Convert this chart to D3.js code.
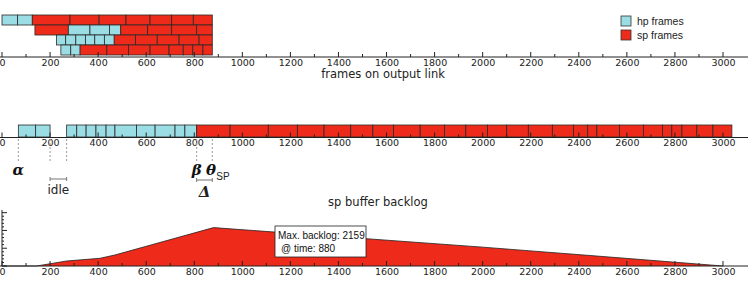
<!DOCTYPE html>
<html>
<head>
<meta charset="utf-8">
<script src="https://cdn.jsdelivr.net/npm/d3@7"></script>
<style>
  body { margin: 0; background: #fff; }
  svg { display: block; font-family: "DejaVu Sans", sans-serif; }
  .tick text { fill: #222; }
</style>
</head>
<body>
<svg class="chart" width="748" height="282"></svg>
<script>
// tick labels shared by all three panels
var xTicks = d3.range(0, 3001, 200);
var minorTicks = d3.range(0, 3001, 100);

// top panel: frame edges per queue row (hp = high priority, sp = low priority)
var row1 = [['hp', [0, 65, 126]], ['sp', [126, 283, 404, 516, 616, 706, 796, 875]]];
var row2 = [['sp', [137, 276]], ['hp', [276, 366, 447, 494]], ['sp', [494, 606, 706, 810, 875]]];
var row3 = [['hp', [227, 265, 307, 347, 386, 426, 467]], ['sp', [467, 556, 646, 737, 820, 875]]];
var row4 = [['hp', [245, 286, 325]], ['sp', [325, 436, 526, 616, 695, 754, 794, 836, 875]]];

// middle panel: frames as they leave on the output link
var linkFrames = [
    ['hp', [68, 140, 200]],
    ['hp', [269, 311, 350, 391, 433, 470, 560, 637, 720, 761, 810]],
    ['sp', [810, 949, 1108, 1229, 1340, 1451, 1543, 1629, 1740, 1841, 1930, 2020, 2100,
            2190, 2290, 2378, 2437, 2475, 2569, 2669, 2748, 2787, 2829, 2891, 2958, 3037]]
];

// bottom panel: sp buffer backlog
var backlogTime = [0, 144, 269, 408, 470, 880, 2000, 2447, 3000];
var backlogBytes = [0, 0, 282, 434, 620, 2159, 1060, 590, 0];
var maxBacklog = { time: 880, value: 2159 };

var colors = { hp: '#9adde4', sp: '#ee2a1a' };

var svg = d3.select('svg.chart');
var x = d3.scaleLinear().domain([0, 3000]).range([2, 723]);

function toSegments(groups) {
    var out = [];
    groups.forEach(function(g) {
        for (var i = 0; i < g[1].length - 1; i++) {
            out.push({ type: g[0], from: g[1][i], to: g[1][i + 1] });
        }
    });
    return out;
}

function drawAxis(yPos) {
    var g = svg.append('g').attr('transform', 'translate(0,' + yPos + ')');
    g.append('line')
        .attr('x1', 0).attr('x2', 748)
        .attr('stroke', '#222').attr('stroke-width', 1);
    g.selectAll('.minor')
        .data(minorTicks)
        .enter()
            .append('line')
            .attr('class', 'minor')
            .attr('x1', function(d) { return x(d); })
            .attr('x2', function(d) { return x(d); })
            .attr('y1', 0)
            .attr('y2', function(d) { return d % 200 === 0 ? -5 : -3; })
            .attr('stroke', '#222');
    var ax = d3.axisBottom(x).tickValues(xTicks).tickFormat(d3.format('d'))
        .tickSize(0).tickPadding(2);
    g.append('g').call(ax)
        .call(function(s) { s.select('.domain').remove(); })
        .selectAll('text')
        .attr('font-size', '9.5px')
        .attr('font-family', '"DejaVu Sans", sans-serif');
}

function drawFrames(segs, y0, h) {
    svg.append('g').selectAll('rect')
        .data(segs)
        .enter()
            .append('rect')
            .attr('x', function(d) { return x(d.from); })
            .attr('y', y0)
            .attr('width', function(d) { return x(d.to) - x(d.from); })
            .attr('height', h)
            .attr('fill', function(d) { return colors[d.type]; })
            .attr('stroke', '#2a2a2a')
            .attr('stroke-width', 0.8);
}

// ---- top panel ----
var rows = [row1, row2, row3, row4];
var rowBand = d3.scaleBand().domain(d3.range(rows.length)).range([15, 55]);
rows.forEach(function(r, i) {
    drawFrames(toSegments(r), rowBand(i), rowBand.bandwidth());
});
drawAxis(57);
svg.append('text').text('frames on output link')
    .attr('x', 383).attr('y', 78).attr('text-anchor', 'middle')
    .attr('font-size', '11.5px').attr('fill', '#222');

// legend
var legend = svg.append('g').selectAll('g')
    .data(['hp', 'sp'])
    .enter()
        .append('g')
        .attr('transform', function(d, i) { return 'translate(621,' + (16 + i * 14) + ')'; });
legend.append('rect')
    .attr('width', 10).attr('height', 10)
    .attr('fill', function(d) { return colors[d]; })
    .attr('stroke', '#333').attr('stroke-width', 0.8);
legend.append('text')
    .text(function(d) { return d + ' frames'; })
    .attr('x', 16).attr('y', 9)
    .attr('font-family', '"Liberation Sans", Arial, sans-serif')
    .attr('font-size', '10.5px').attr('fill', '#222');

// ---- middle panel ----
drawFrames(toSegments(linkFrames), 125, 12);
drawAxis(137.5);

var marks = [68, 200, 269, 810, 875];
svg.append('g').selectAll('line')
    .data(marks)
    .enter()
        .append('line')
        .attr('x1', function(d) { return x(d); })
        .attr('x2', function(d) { return x(d); })
        .attr('y1', 139).attr('y2', 163)
        .attr('stroke', '#999').attr('stroke-dasharray', '2,2');

var greek = [['α', 68], ['β', 810], ['θ', 870]];
svg.append('g').selectAll('text')
    .data(greek)
    .enter()
        .append('text')
        .text(function(d) { return d[0]; })
        .attr('x', function(d) { return x(d[1]); })
        .attr('y', 175)
        .attr('text-anchor', 'middle')
        .attr('font-family', '"DejaVu Serif", serif')
        .attr('font-style', 'italic').attr('font-weight', 'bold')
        .attr('font-size', '15px').attr('fill', '#111');
svg.append('text').text('SP')
    .attr('x', x(875) + 4).attr('y', 180)
    .attr('font-family', '"Liberation Sans", Arial, sans-serif')
    .attr('font-size', '10px').attr('fill', '#222');

function bracket(a, b, yPos, label, ly, style) {
    var g = svg.append('g');
    g.append('line').attr('x1', x(a)).attr('x2', x(b)).attr('y1', yPos).attr('y2', yPos)
        .attr('stroke', '#777');
    [a, b].forEach(function(v) {
        g.append('line').attr('x1', x(v)).attr('x2', x(v))
            .attr('y1', yPos - 2).attr('y2', yPos + 2).attr('stroke', '#777');
    });
    var t = g.append('text').text(label)
        .attr('x', (x(a) + x(b)) / 2).attr('y', ly)
        .attr('text-anchor', 'middle').attr('fill', '#222');
    if (style) {
        t.attr('font-family', '"DejaVu Serif", serif').attr('font-style', 'italic')
         .attr('font-weight', 'bold').attr('font-size', '15px');
    } else {
        t.attr('font-size', '12px');
    }
}
bracket(200, 269, 179, 'idle', 194, false);
bracket(810, 875, 180, 'Δ', 197, true);

// ---- bottom panel ----
var y = d3.scaleLinear().domain([0, 3150]).range([266, 210]);
svg.append('text').text('sp buffer backlog')
    .attr('x', 378).attr('y', 206).attr('text-anchor', 'middle')
    .attr('font-size', '11.5px').attr('fill', '#222');

var backlog = backlogTime.map(function(t, i) { return [t, backlogBytes[i]]; });
svg.append('path')
    .datum(backlog)
    .attr('d', d3.area()
        .x(function(d) { return x(d[0]); })
        .y0(y(0))
        .y1(function(d) { return y(d[1]); }))
    .attr('fill', colors.sp);
svg.append('path')
    .datum(backlog)
    .attr('d', d3.line()
        .x(function(d) { return x(d[0]); })
        .y(function(d) { return y(d[1]); }))
    .attr('fill', 'none').attr('stroke', '#222').attr('stroke-width', 0.8);

drawAxis(266);

// y axis, no labels visible
var yAxis = svg.append('g').attr('transform', 'translate(2,0)');
yAxis.append('line').attr('x1', 0).attr('x2', 0).attr('y1', y(3150)).attr('y2', y(0))
    .attr('stroke', '#222');
yAxis.selectAll('.yt')
    .data(d3.range(0, 3001, 200))
    .enter()
        .append('line')
        .attr('class', 'yt')
        .attr('x1', 0)
        .attr('x2', function(d) { return d % 1000 === 0 ? 5 : 2; })
        .attr('y1', function(d) { return y(d); })
        .attr('y2', function(d) { return y(d); })
        .attr('stroke', '#222');

// max backlog annotation box
var box = svg.append('g').attr('transform', 'translate(275,226)')
    .attr('font-family', '"Liberation Sans", Arial, sans-serif');
box.append('rect').attr('width', 91).attr('height', 31)
    .attr('fill', '#fff').attr('stroke', '#222').attr('stroke-width', 0.8);
box.append('text').text('Max. backlog: ' + maxBacklog.value)
    .attr('x', 3).attr('y', 13).attr('font-size', '10px').attr('fill', '#111');
box.append('text').text('@ time: ' + maxBacklog.time)
    .attr('x', 6).attr('y', 26).attr('font-size', '10px').attr('fill', '#111');
</script>
</body>
</html>
